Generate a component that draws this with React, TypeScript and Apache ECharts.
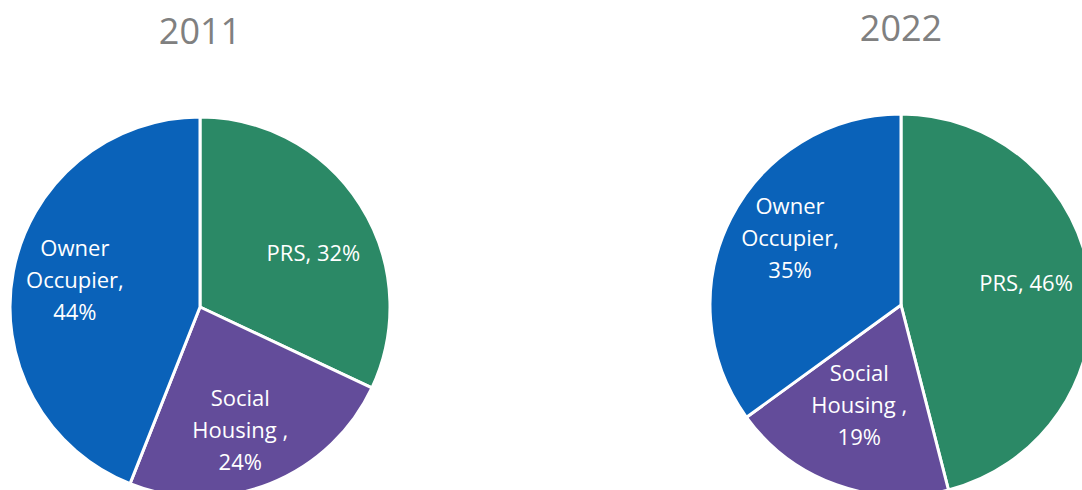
import React, { useEffect, useRef } from "react";
import * as echarts from "echarts";

const categories = ["PRS", "Social Housing", "Owner Occupier"];
const values2011 = [32, 24, 44];
const values2022 = [46, 19, 35];
const labels2011 = ["PRS, 32%", "Social\nHousing ,\n24%", "Owner\nOccupier,\n44%"];
const labels2022 = ["PRS, 46%", "Social\nHousing ,\n19%", "Owner\nOccupier,\n35%"];
const years = ["2011", "2022"];
const colors = ["#2B8966", "#634C9A", "#0A62B9"];

// fine nudges of label placement (layout only)
const nudge2011 = [[5, 14], [-7, 3], [1, -4]];
const nudge2022 = [[-3, -7], [2, -22], [4, -9]];

const FONT = "'Segoe UI', 'Open Sans', 'Noto Sans', sans-serif";

function makeSeries(values: number[], labels: string[], nudge: number[][], center: number[], r: number) {
  const data = categories.map((c, i) => ({ name: c, value: values[i] }));
  return [
    {
      type: "pie",
      center,
      radius: [0, r],
      startAngle: 90,
      clockwise: true,
      silent: true,
      label: { show: false },
      labelLine: { show: false },
      itemStyle: {
        color: (p: any) => colors[p.dataIndex],
        borderColor: "#ffffff",
        borderWidth: 3,
      },
      data,
    },
    {
      type: "pie",
      center,
      radius: [r * 0.32, r],
      startAngle: 90,
      clockwise: true,
      silent: true,
      z: 5,
      itemStyle: { color: "rgba(0,0,0,0)", borderWidth: 0 },
      label: {
        show: true,
        position: "inside",
        color: "#ffffff",
        fontSize: 22,
        lineHeight: 32,
        fontFamily: FONT,
        align: "center",
        formatter: (p: any) => labels[p.dataIndex],
      },
      labelLayout: (p: any) => ({ dx: nudge[p.dataIndex][0], dy: nudge[p.dataIndex][1] }),
      labelLine: { show: false },
      data,
    },
  ];
}

export default function App() {
  const ref = useRef<HTMLDivElement>(null);
  useEffect(() => {
    if (!ref.current) return;
    const chart = echarts.init(ref.current, undefined, { renderer: "svg" });
    chart.setOption({
      animation: false,
      backgroundColor: "#ffffff",
      graphic: [
        {
          type: "text",
          x: 200,
          y: 30,
          style: {
            text: years[0],
            textAlign: "center",
            textVerticalAlign: "middle",
            fontSize: 36,
            fontFamily: FONT,
            fill: "#808080",
          },
        },
        {
          type: "text",
          x: 901,
          y: 27,
          style: {
            text: years[1],
            textAlign: "center",
            textVerticalAlign: "middle",
            fontSize: 36,
            fontFamily: FONT,
            fill: "#808080",
          },
        },
      ],
      series: [
        ...makeSeries(values2011, labels2011, nudge2011, [200, 307], 190),
        ...makeSeries(values2022, labels2022, nudge2022, [901, 305], 191),
      ],
    });
    return () => chart.dispose();
  }, []);
  return (
    <div
      ref={ref}
      style={{ position: "fixed", left: 0, top: 0, width: "1082px", height: "490px" }}
    />
  );
}
